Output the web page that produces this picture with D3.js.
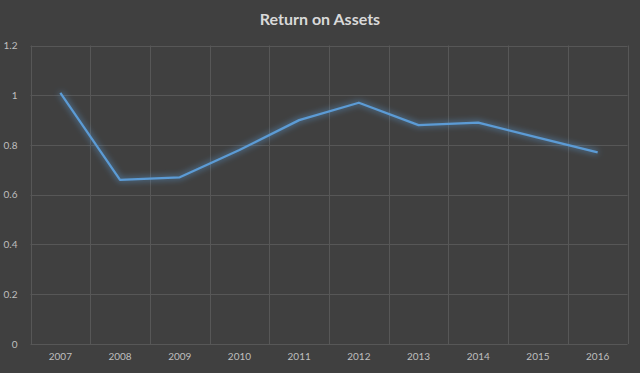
<!DOCTYPE html>
<html lang="en">
<head>
<meta charset="utf-8">
<title>Return on Assets</title>
<script src="https://d3js.org/d3.v7.min.js"></script>
<style>
body { margin: 0; background: #404040; }
.axis text { font: 10px Lato, "Open Sans", sans-serif; fill: #bfbfbf; }
</style>
</head>
<body>
<script>
// chart data
var years = ["2007","2008","2009","2010","2011","2012","2013","2014","2015","2016"];
var roa = [1.01, 0.66, 0.67, 0.78, 0.90, 0.97, 0.88, 0.89, 0.83, 0.77];
var yTicks = [0, 0.2, 0.4, 0.6, 0.8, 1, 1.2];

var width = 640, height = 373;
var margin = {top: 45.5, right: 12.5, bottom: 29, left: 30.5};

var svg = d3.select("body").append("svg")
  .attr("width", width)
  .attr("height", height);

svg.append("rect").attr("width", width).attr("height", height).attr("fill", "#404040");

// glow for the line
var defs = svg.append("defs");
var glow = defs.append("filter").attr("id", "glow")
  .attr("x", "-10%").attr("y", "-20%").attr("width", "120%").attr("height", "140%");
glow.append("feGaussianBlur").attr("in", "SourceGraphic").attr("stdDeviation", 3).attr("result", "blur");
var merge = glow.append("feMerge");
merge.append("feMergeNode").attr("in", "blur");
merge.append("feMergeNode").attr("in", "SourceGraphic");

var x = d3.scaleBand().domain(years).range([margin.left, width - margin.right]);
var y = d3.scaleLinear().domain([0, 1.2]).range([height - margin.bottom, margin.top]);

// gridlines
svg.append("g").selectAll("line.h").data(yTicks).enter().append("line")
  .attr("x1", margin.left).attr("x2", width - margin.right)
  .attr("y1", function(d) { return Math.round(y(d)) + 0.5; })
  .attr("y2", function(d) { return Math.round(y(d)) + 0.5; })
  .attr("stroke", "#575757").attr("stroke-width", 1);

var bounds = years.map(function(d) { return x(d); }).concat([width - margin.right]);
svg.append("g").selectAll("line.v").data(bounds).enter().append("line")
  .attr("x1", function(d) { return Math.round(d) + 0.5; })
  .attr("x2", function(d) { return Math.round(d) + 0.5; })
  .attr("y1", margin.top).attr("y2", height - margin.bottom)
  .attr("stroke", "#575757").attr("stroke-width", 1);

// axes
var yAxis = d3.axisLeft(y).tickValues(yTicks).tickSize(0).tickPadding(13)
  .tickFormat(function(d) { return d3.format("")(d); });
svg.append("g").attr("class", "axis")
  .attr("transform", "translate(" + margin.left + ",0)")
  .call(yAxis)
  .call(function(g) { g.select(".domain").remove(); });

var xAxis = d3.axisBottom(x).tickSize(0).tickPadding(9);
svg.append("g").attr("class", "axis")
  .attr("transform", "translate(0," + (height - margin.bottom) + ")")
  .call(xAxis)
  .call(function(g) { g.select(".domain").remove(); });

// line
var line = d3.line()
  .x(function(d, i) { return x(years[i]) + x.bandwidth() / 2; })
  .y(function(d) { return y(d); });

svg.append("path").datum(roa)
  .attr("d", line)
  .attr("fill", "none")
  .attr("stroke", "#5b9bd5")
  .attr("stroke-width", 2.25)
  .attr("stroke-linejoin", "round")
  .attr("filter", "url(#glow)");

// title
svg.append("text")
  .attr("x", width / 2)
  .attr("y", 25)
  .attr("text-anchor", "middle")
  .style("font", "bold 16px Lato, 'Open Sans', sans-serif")
  .style("fill", "#d9d9d9")
  .text("Return on Assets");
</script>
</body>
</html>
